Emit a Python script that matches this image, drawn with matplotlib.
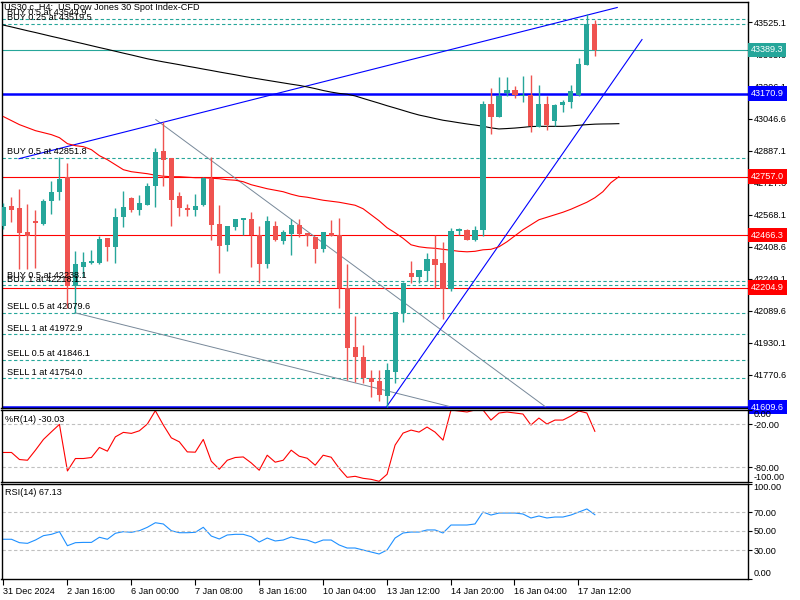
import matplotlib
matplotlib.use('Agg')
import matplotlib.pyplot as plt
import matplotlib.transforms as mtrans
import numpy as np

plt.rcParams['font.family'] = ['Liberation Sans', 'DejaVu Sans']
FS = 6.6

# ---------------- data ----------------
opens = [42512.8, 42609.0, 42601.0, 42479.4, 42534.2, 42522.7, 42633.9, 42678.8, 42755.6, 42215.1,
         42309.8, 42329.8, 42329.8, 42449.4, 42404.6, 42556.1, 42650.9, 42592.5, 42617.5, 42708.7,
         42886.7, 42850.3, 42662.3, 42602.5, 42589.0, 42614.0, 42747.1, 42522.7, 42418.0, 42506.3,
         42542.7, 42547.7, 42464.4, 42323.3, 42512.8, 42434.5, 42472.9, 42517.7, 42476.4, 42456.4,
         42396.6, 42476.4, 42466.4, 42202.1, 41910.9, 41858.1, 41756.4, 41739.9, 41665.1, 41786.3,
         42077.5, 42278.4, 42260.0, 42289.9, 42349.7, 42328.3, 42197.1, 42484.3, 42492.8, 42439.5,
         42489.3, 43121.1, 43054.7, 43174.4, 43187.4, 43160.9, 43165.9, 43004.9, 43121.1, 43032.8,
         43112.6, 43127.5, 43165.9, 43315.5, 43519.9]
highs = [42627.4, 42657.4, 42695.7, 42622.5, 42589.0, 42645.9, 42737.1, 42855.3, 42825.4, 42388.1,
         42384.6, 42393.1, 42459.4, 42452.9, 42601.0, 42687.3, 42655.9, 42667.3, 42725.7, 42900.2,
         43031.3, 42850.3, 42680.8, 42622.5, 42670.8, 42755.6, 42855.3, 42617.5, 42512.8, 42547.7,
         42549.2, 42579.1, 42512.8, 42562.6, 42534.2, 42492.8, 42547.7, 42547.7, 42476.4, 42456.4,
         42479.4, 42542.7, 42551.2, 42323.3, 42064.0, 41919.4, 41794.8, 41794.8, 41828.2, 42085.5,
         42235.0, 42338.3, 42293.4, 42376.6, 42467.9, 42433.0, 42501.3, 42501.3, 42497.8, 42512.8,
         43132.5, 43199.3, 43254.2, 43254.2, 43210.8, 43260.7, 43265.6, 43215.8, 43157.5, 43121.1,
         43141.0, 43215.8, 43348.9, 43569.8, 43536.4]
lows = [42497.8, 42529.2, 42296.9, 42296.9, 42301.9, 42517.7, 42572.6, 42638.9, 42102.4, 42079.6,
        42260.0, 42323.3, 42323.3, 42339.7, 42326.8, 42506.3, 42579.1, 42567.6, 42617.5, 42604.0,
        42708.7, 42509.3, 42562.6, 42559.1, 42559.1, 42609.0, 42443.0, 42279.9, 42388.1, 42489.3,
        42467.9, 42306.8, 42230.1, 42304.8, 42434.5, 42423.0, 42368.2, 42457.9, 42409.6, 42329.8,
        42384.6, 42459.4, 42102.4, 41744.9, 41736.4, 41731.5, 41661.6, 41641.7, 41609.6, 41731.5,
        42035.6, 42230.1, 42227.1, 42238.5, 42202.1, 42047.6, 42190.2, 42467.9, 42439.5, 42434.5,
        42459.4, 42968.0, 43054.7, 43160.9, 43147.5, 43127.5, 42978.0, 43004.9, 42987.9, 43011.4,
        43077.7, 43099.6, 43160.9, 43315.5, 43360.4]
closes = [42607.5, 42592.5, 42476.4, 42459.4, 42526.2, 42637.4, 42682.3, 42745.6, 42215.1, 42323.3,
          42334.8, 42339.7, 42447.9, 42404.6, 42556.1, 42606.0, 42592.5, 42625.9, 42712.2, 42881.7,
          42841.8, 42642.4, 42601.0, 42589.0, 42612.5, 42750.6, 42517.7, 42409.6, 42512.8, 42547.7,
          42549.2, 42467.9, 42323.3, 42537.7, 42439.5, 42481.3, 42516.2, 42472.9, 42459.4, 42396.6,
          42479.4, 42459.4, 42202.1, 41906.0, 41861.1, 41753.4, 41736.4, 41670.1, 41794.8, 42085.5,
          42230.1, 42260.0, 42293.4, 42348.2, 42318.3, 42197.1, 42487.8, 42497.8, 42439.5, 42489.3,
          43121.1, 43054.7, 43160.9, 43187.4, 43165.9, 43165.9, 43007.9, 43121.1, 43016.3, 43114.6,
          43129.5, 43182.4, 43320.5, 43519.9, 43389.3]

# moving averages as drawn (shifted, so they run 3 bars past the last candle)
ma_red = [43056.2, 43036.3, 43016.3, 43001.4, 42986.4, 42976.5, 42966.5, 42951.5, 42921.6, 42911.6,
          42906.7, 42891.7, 42861.8, 42841.8, 42816.9, 42792.0, 42782.0, 42777.0, 42772.0, 42764.6,
          42759.6, 42757.1, 42757.1, 42754.6, 42752.1, 42752.1, 42749.6, 42747.1, 42742.1, 42739.6,
          42732.1, 42717.2, 42707.2, 42697.2, 42689.8, 42682.3, 42669.8, 42659.8, 42654.9, 42647.4,
          42639.9, 42634.9, 42629.9, 42622.5, 42615.0, 42597.5, 42567.6, 42537.7, 42502.8, 42477.9,
          42450.4, 42418.0, 42408.1, 42403.1, 42400.6, 42395.6, 42390.6, 42385.6, 42383.1, 42385.6,
          42393.1, 42395.6, 42408.1, 42433.0, 42462.9, 42492.8, 42517.7, 42542.7, 42555.1, 42567.6,
          42580.1, 42595.0, 42612.5, 42629.9, 42652.4, 42682.3, 42727.2, 42757.1]
ma_black = [43512.0, 43503.0, 43493.5, 43484.0, 43475.1, 43465.6, 43456.1, 43447.1, 43437.7, 43428.2,
            43419.2, 43409.7, 43400.3, 43391.3, 43381.8, 43372.4, 43363.4, 43353.9, 43344.4, 43336.5,
            43329.0, 43322.0, 43315.0, 43307.5, 43300.6, 43293.1, 43286.1, 43278.6, 43271.6, 43264.7,
            43257.2, 43250.2, 43243.7, 43237.2, 43230.7, 43224.3, 43217.8, 43211.8, 43204.3, 43195.8,
            43186.4, 43178.4, 43171.9, 43167.9, 43159.4, 43147.0, 43135.0, 43123.1, 43110.6, 43099.1,
            43087.2, 43075.2, 43064.2, 43055.7, 43046.8, 43038.3, 43032.3, 43025.8, 43019.8, 43014.4,
            43008.4, 43000.4, 42994.9, 42996.9, 42999.4, 43002.9, 43006.9, 43007.9, 43007.9, 43007.9,
            43007.9, 43009.9, 43013.4, 43016.3, 43018.8, 43019.8, 43020.3, 43021.3]

wpr = [-59.4, -59.4, -69.2, -70.2, -56.2, -41.3, -30.7, -20.4, -85.1, -67.8,
       -67.8, -66.4, -52.4, -57.6, -37.7, -31.5, -32.9, -29.3, -19.9, -1.4,
       -21.3, -39.1, -44.6, -58.6, -59.0, -41.3, -71.5, -82.7, -70.2, -66.4,
       -65.6, -73.9, -84.1, -63.2, -72.9, -70.2, -56.2, -64.6, -67.4, -77.1,
       -63.2, -66.0, -81.3, -93.9, -92.5, -95.3, -96.7, -99.4, -89.7, -49.2,
       -32.5, -28.3, -31.1, -24.1, -31.1, -42.3, -0.4, -1.8, -3.2, -0.4,
       -0.4, -14.4, -4.6, -3.2, -4.6, -6.0, -21.3, -11.6, -19.9, -14.4,
       -14.4, -8.8, -1.8, -4.6, -30.03]
rsi = [41.3, 41.3, 37.7, 37.0, 40.5, 45.1, 46.5, 49.3, 34.5, 37.7,
       38.0, 38.0, 43.4, 41.3, 47.6, 49.3, 48.6, 50.3, 53.9, 58.7,
       57.4, 50.3, 48.2, 48.2, 48.6, 53.9, 44.7, 41.6, 45.8, 46.5,
       46.5, 44.0, 38.4, 42.6, 39.5, 40.5, 43.7, 41.6, 40.5, 37.4,
       40.5, 40.5, 35.3, 32.1, 32.1, 30.0, 27.9, 25.8, 30.0, 42.6,
       47.9, 48.9, 48.9, 51.1, 51.1, 47.9, 56.3, 56.3, 56.3, 57.4,
       70.0, 66.8, 68.9, 68.9, 68.9, 67.9, 63.7, 65.8, 63.7, 64.7,
       64.7, 66.8, 70.0, 73.2, 67.13]

date_ticks = [0, 8, 16, 24, 32, 40, 48, 56, 64, 72]
date_labels = ['31 Dec 2024', '2 Jan 16:00', '6 Jan 00:00', '7 Jan 08:00', '8 Jan 16:00',
               '10 Jan 04:00', '13 Jan 12:00', '14 Jan 20:00', '16 Jan 04:00', '17 Jan 12:00']
price_ticks = [41770.6, 41930.1, 42089.6, 42249.1, 42408.6, 42568.1, 42727.6, 42887.1,
               43046.6, 43206.1, 43365.6, 43525.1]

order_prices = [43544.9, 43519.5, 42851.8, 42238.1, 42218.1, 42079.6, 41972.9, 41846.1, 41754.0]
order_labels = ['BUY 0.5 at 43544.9', 'BUY 0.25 at 43519.5', 'BUY 0.5 at 42851.8',
                'BUY 0.5 at 42238.1', 'BUY 1 at 42218.1', 'SELL 0.5 at 42079.6',
                'SELL 1 at 41972.9', 'SELL 0.5 at 41846.1', 'SELL 1 at 41754.0']
red_levels = [42757.0, 42466.3, 42204.9]
blue_levels = [43170.9, 41609.6]
bid_price = 43389.3

# trend lines: (bar, price) anchors
blue_trend1 = ([1.94, 76.8], [42846.8, 43599.7])
blue_trend2 = ([47.9, 79.9], [41609.6, 43440.2])
gray_trend1 = ([19.06, 67.8], [43041.3, 41612.0])
gray_trend2 = ([8.94, 55.7], [42079.6, 41614.0])

# ---------------- styling ----------------
TEAL = '#26a69a'
BEAR = '#ef5350'
RED = '#ff0000'
BLUE = '#0000ff'
GRAY = '#778899'

W, H = 800, 600
fig = plt.figure(figsize=(8, 6), dpi=100)
fig.patch.set_facecolor('white')

def px_axes(x0, y0, x1, y1):
    return fig.add_axes([x0 / W, 1 - y1 / H, (x1 - x0) / W, (y1 - y0) / H])

ax = px_axes(1.5, 1.5, 747.5, 408)
axr = px_axes(1.5, 409.7, 747.5, 481.7)
axs = px_axes(1.5, 483.5, 747.5, 578.5)

XL = (-0.25, 93.1)
for a in (ax, axr, axs):
    a.set_xlim(*XL)
    a.set_facecolor('white')
    for s in a.spines.values():
        s.set_color('black')
        s.set_linewidth(1.0)
    a.yaxis.tick_right()
    a.tick_params(axis='y', direction='out', length=3, width=0.8, pad=1.5,
                  labelsize=FS, colors='black')
    a.tick_params(axis='x', bottom=False, labelbottom=False)

ax.set_ylim(41605.3, 43629.6)
axr.set_ylim(-100, 0)
axs.set_ylim(0, 100)

n = len(opens)
x = np.arange(n)
o = np.array(opens); c = np.array(closes); h = np.array(highs); l = np.array(lows)
up = c >= o
cols = np.where(up, TEAL, BEAR)

# horizontal levels
for p in order_prices:
    ax.axhline(p, color=TEAL, lw=0.8, dashes=(3.0, 2.2), zorder=1)
for p in red_levels:
    ax.axhline(p, color=RED, lw=0.8, zorder=1)
ax.axhline(bid_price, color=TEAL, lw=0.8, zorder=1)
for p in blue_levels:
    ax.axhline(p, color=BLUE, lw=1.8, zorder=2)

# trend lines
ax.plot(*gray_trend1, color=GRAY, lw=0.7, zorder=2)
ax.plot(*gray_trend2, color=GRAY, lw=0.7, zorder=2)
ax.plot(*blue_trend1, color=BLUE, lw=0.8, zorder=2)
ax.plot(*blue_trend2, color=BLUE, lw=0.8, zorder=2)

# moving averages
ax.plot(np.arange(len(ma_red)), ma_red, color=RED, lw=0.8, zorder=3)
ax.plot(np.arange(len(ma_black)), ma_black, color='black', lw=0.8, zorder=3)

# candles
ax.vlines(x, l, h, colors=cols, lw=1.0, zorder=4)
body_lo = np.minimum(o, c)
body_h = np.maximum(np.abs(c - o), 3.0)
ax.bar(x, body_h, bottom=body_lo, width=0.64, color=cols, linewidth=0, zorder=5)

# order labels
for p, t in zip(order_prices, order_labels):
    ax.text(0.45, p + 7, t, fontsize=FS, color='black', va='bottom', ha='left', zorder=6)

ax.set_yticks(price_ticks)
ax.set_yticklabels([f'{v:.1f}' for v in price_ticks])

# price boxes on the right scale
bt = mtrans.blended_transform_factory(ax.transAxes, ax.transData)
boxes = [(bid_price, TEAL)] + [(p, BLUE) for p in blue_levels] + [(p, RED) for p in red_levels]
for p, col in boxes:
    ax.text(1.005, p, f'{p:.1f}', transform=bt, fontsize=FS, color='white', va='center',
            ha='left', clip_on=False, zorder=10,
            bbox=dict(boxstyle='square,pad=0.3', facecolor=col, edgecolor='none'))

fig.text(4 / W, 1 - 8 / H, 'US30.c, H4:  US Dow Jones 30 Spot Index-CFD', fontsize=FS,
         color='black', va='center', ha='left')

# Williams %R
axr.plot(x, wpr, color=RED, lw=0.8)
for v in (-20, -80):
    axr.axhline(v, color='#c0c0c0', lw=0.8, dashes=(3.0, 2.2))
axr.set_yticks([0, -20, -80, -100])
axr.set_yticklabels(['0.00', '-20.00', '-80.00', '-100.00'])
tl = axr.get_yticklabels()
tl[0].set_va('top'); tl[3].set_va('bottom')
axr.text(0.005, 0.93, '%R(14) -30.03', transform=axr.transAxes, fontsize=FS, va='top', ha='left')

# RSI
axs.plot(x, rsi, color='#1e90ff', lw=0.8)
for v in (30, 50, 70):
    axs.axhline(v, color='#c0c0c0', lw=0.8, dashes=(3.0, 2.2))
axs.set_yticks([0, 30, 50, 70, 100])
axs.set_yticklabels(['0.00', '30.00', '50.00', '70.00', '100.00'])
tl = axs.get_yticklabels()
tl[0].set_va('bottom'); tl[4].set_va('top')
axs.text(0.005, 0.95, 'RSI(14) 67.13', transform=axs.transAxes, fontsize=FS, va='top', ha='left')

axs.set_xticks([t - 0.06 for t in date_ticks])
axs.set_xticklabels(date_labels)
axs.tick_params(axis='x', bottom=True, labelbottom=True, direction='out', length=4,
                width=0.8, pad=2, labelsize=FS)
for t in axs.get_xticklabels():
    t.set_ha('left')

fig.savefig('out.png', dpi=100, facecolor='white')
